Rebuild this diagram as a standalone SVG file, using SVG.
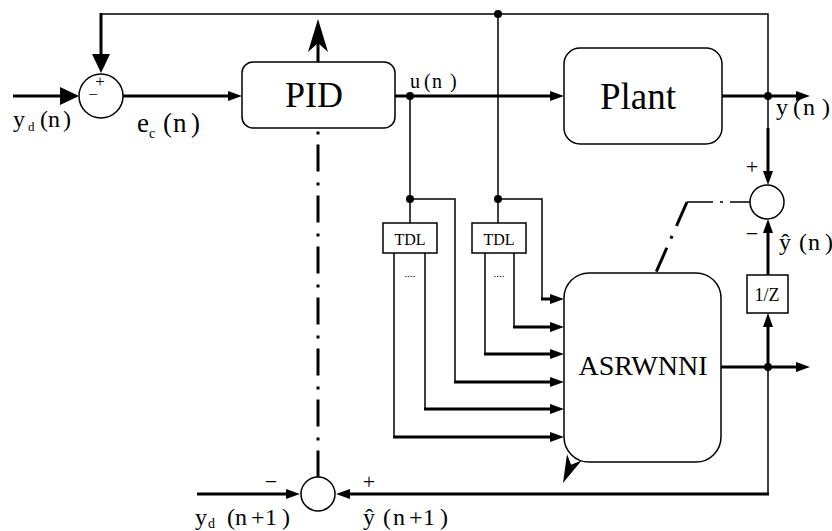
<svg xmlns="http://www.w3.org/2000/svg" width="832" height="531" viewBox="0 0 832 531">
<style>
.thin{fill:none;stroke:#000;stroke-width:1.5}
.thick{fill:none;stroke:#000;stroke-width:3}
.box{fill:#fff;stroke:#000;stroke-width:1.5}
.dot{fill:#000}
text{font-family:'Liberation Serif','Times New Roman','DejaVu Serif',serif;fill:#000}
</style>
<defs>
<marker id="a" markerUnits="userSpaceOnUse" markerWidth="14" markerHeight="10" refX="6" refY="5" orient="auto" overflow="visible"><path d="M0,0 L14,5 L0,10 Z" fill="#000"/></marker>
<marker id="aL" markerUnits="userSpaceOnUse" markerWidth="19" markerHeight="18" refX="9" refY="9" orient="auto" overflow="visible"><path d="M0,0 L19,9 L0,18 Z" fill="#000"/></marker>
</defs>
<rect width="832" height="531" fill="#fff"/>
<g id="connectors">
<path class="thin" d="M768,96 L768,14 L101,14"/>
<path class="thick" d="M101,13 L101,63" marker-end="url(#aL)"/>
<path class="thick" d="M13,96 L69,96" marker-end="url(#aL)"/>
<path class="thick" d="M123,96 L234,96" marker-end="url(#a)"/>
<path class="thick" d="M395,96 L556,96" marker-end="url(#a)"/>
<path class="thick" d="M722,96 L802,96" marker-end="url(#a)"/>
<path class="thin" d="M768,96 L768,128"/>
<path class="thick" d="M768,128 L768,177" marker-end="url(#a)"/>
<path class="thin" d="M410,96 L410,223"/>
<path class="thin" d="M498,14 L498,223"/>
<path class="thin" d="M498,199 L542,199 L542,299"/>
<path class="thick" d="M541,299 L556,299" marker-end="url(#a)"/>
<path class="thin" d="M514,253 L514,327"/>
<path class="thick" d="M513,327 L556,327" marker-end="url(#a)"/>
<path class="thin" d="M485,253 L485,354"/>
<path class="thick" d="M484,354 L556,354" marker-end="url(#a)"/>
<path class="thin" d="M410,199 L455,199 L455,382"/>
<path class="thick" d="M454,382 L556,382" marker-end="url(#a)"/>
<path class="thin" d="M425,253 L425,409"/>
<path class="thick" d="M424,409 L556,409" marker-end="url(#a)"/>
<path class="thin" d="M394,253 L394,437"/>
<path class="thick" d="M393,437 L556,437" marker-end="url(#a)"/>
<path class="thick" d="M721,367 L802,367" marker-end="url(#a)"/>
<path class="thick" d="M768,367 L768,321" marker-end="url(#a)"/>
<path class="thick" d="M768,275 L768,227" marker-end="url(#a)"/>
<path class="thin" d="M768,367 L768,494"/>
<path class="thick" d="M769,494 L344,494" marker-end="url(#a)"/>
<path class="thick" d="M197,494 L292,494" marker-end="url(#a)"/>
<path class="thick" d="M318,131.5 L318,477" stroke-dasharray="3 10 27 11"/>
<path class="thick" d="M318,62 L318,40"/>
<path d="M318,19 L328,52 L318,43 L308,52 Z" fill="#000"/>
<path class="thin" d="M687,202 L750,202" stroke-dasharray="26 7 3 7 40"/>
<path class="thick" d="M687,202 L571,465" stroke-dasharray="26 11 3 10"/>
<path d="M563,483 L581.6,460.6 L571.1,464.7 L567,454.2 Z" fill="#000"/>
<circle class="dot" cx="410" cy="96" r="4"/>
<circle class="dot" cx="498" cy="14" r="4"/>
<circle class="dot" cx="410" cy="199" r="4"/>
<circle class="dot" cx="498" cy="199" r="4"/>
<circle class="dot" cx="768" cy="96" r="4"/>
<circle class="dot" cx="768" cy="367" r="4"/>
</g>
<g id="sum1">
<circle class="box" cx="101" cy="96" r="22"/>
<text font-family="Liberation Serif, serif" font-size="17" text-anchor="middle"><tspan x="100" y="87">+</tspan><tspan x="93" y="100">−</tspan></text>
</g>
<g id="pid">
<rect class="box" x="242" y="62" width="153" height="66" rx="11"/>
<text font-family="Liberation Serif, serif" x="314" y="107" font-size="36" text-anchor="middle">PID</text>
</g>
<g id="plant">
<rect class="box" x="564" y="48" width="158" height="96" rx="16"/>
<text font-family="Liberation Serif, serif" x="638" y="109" font-size="37" text-anchor="middle">Plant</text>
</g>
<g id="tdl1">
<rect class="box" x="383" y="223" width="54" height="30"/>
<text font-family="Liberation Serif, serif" x="410" y="245" font-size="16" text-anchor="middle">TDL</text>
<text font-family="Liberation Serif, serif" x="410" y="277" font-size="11" text-anchor="middle">....</text>
</g>
<g id="tdl2">
<rect class="box" x="472" y="223" width="54" height="30"/>
<text font-family="Liberation Serif, serif" x="499" y="245" font-size="16" text-anchor="middle">TDL</text>
<text font-family="Liberation Serif, serif" x="499" y="277" font-size="11" text-anchor="middle">....</text>
</g>
<g id="asrwnni">
<rect class="box" x="564" y="273" width="157" height="189" rx="25"/>
<text font-family="Liberation Serif, serif" x="643" y="375" font-size="28" text-anchor="middle">ASRWNNI</text>
</g>
<g id="sum2">
<circle class="box" cx="767" cy="202" r="17"/>
</g>
<g id="delay">
<rect class="box" x="747" y="275" width="41" height="38"/>
<text font-family="Liberation Serif, serif" x="767" y="301" font-size="18" text-anchor="middle">1/Z</text>
</g>
<g id="sum3">
<circle class="box" cx="318" cy="494" r="17"/>
</g>
<g id="labels" font-family="Liberation Serif, serif">
<text font-size="24" y="127"><tspan x="13">y</tspan><tspan x="28" y="131" font-size="13">d</tspan><tspan x="40" y="127">(</tspan><tspan x="48">n</tspan><tspan x="63">)</tspan></text>
<text font-size="27" y="132"><tspan x="137">e</tspan><tspan x="149" y="138" font-size="14">c</tspan><tspan x="163" y="132">(</tspan><tspan x="173">n</tspan><tspan x="191">)</tspan></text>
<text font-size="20" y="88"><tspan x="410">u</tspan><tspan x="424">(</tspan><tspan x="432">n</tspan><tspan x="450">)</tspan></text>
<text font-size="24" y="115"><tspan x="776">y</tspan><tspan x="793">(</tspan><tspan x="803">n</tspan><tspan x="822">)</tspan></text>
<text x="752" y="174" font-size="22" text-anchor="middle">+</text>
<text x="752" y="241" font-size="22" text-anchor="middle">−</text>
<text font-size="24" y="250"><tspan x="779">ŷ</tspan><tspan x="799">(</tspan><tspan x="808">n</tspan><tspan x="825">)</tspan></text>
<text x="271" y="489" font-size="22" text-anchor="middle">−</text>
<text x="369" y="489" font-size="22" text-anchor="middle">+</text>
<text font-size="24" y="525"><tspan x="195">y</tspan><tspan x="208" y="528" font-size="14">d</tspan><tspan x="227" y="525">(</tspan><tspan x="235">n</tspan><tspan x="251">+</tspan><tspan x="265">1</tspan><tspan x="282">)</tspan></text>
<text font-size="24" y="525"><tspan x="363">ŷ</tspan><tspan x="383">(</tspan><tspan x="393">n</tspan><tspan x="409">+</tspan><tspan x="423">1</tspan><tspan x="440">)</tspan></text>
</g>
</svg>
